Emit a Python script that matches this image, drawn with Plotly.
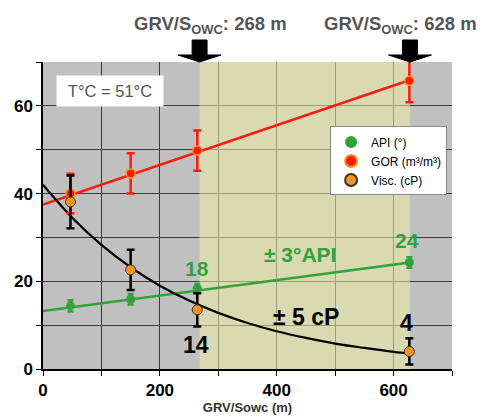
import plotly.graph_objects as go

# Measured points
x_pts = [47, 150, 264, 627]
api = [14.4, 15.9, 18.4, 24.3]
api_err = [1.3, 1.2, 1.0, 1.2]
gor = [40.0, 44.6, 49.8, 65.7]
gor_err = [4.5, 4.6, 4.6, 4.9]
visc = [38.1, 22.6, 13.5, 4.0]
visc_err = [6.0, 4.6, 3.8, 3.0]

# Trend lines
api_line_x = [0, 628]
api_line_y = [13.2, 24.3]
gor_line_x = [0, 628]
gor_line_y = [37.5, 65.9]
visc_curve_x = [0, 50, 100, 150, 200, 250, 300, 350, 400, 450, 500, 550, 600, 628]
visc_curve_y = [42.0, 34.5, 28.3, 23.2, 19.0, 15.6, 12.8, 10.5, 8.6, 7.1, 5.8, 4.8, 3.9, 3.5]

owc_marks = [268, 628]
x_ticks = [0, 200, 400, 600]
y_ticks = [0, 20, 40, 60]

GREEN = "#33A03C"
RED = "#FF1A0A"
ORANGE = "#F7941D"
FONT = "Liberation Sans, Arial"

fig = go.Figure()

fig.add_trace(go.Scatter(x=gor_line_x, y=gor_line_y, mode="lines",
                         line=dict(color=RED, width=2.5), showlegend=False, hoverinfo="skip"))
fig.add_trace(go.Scatter(x=api_line_x, y=api_line_y, mode="lines",
                         line=dict(color=GREEN, width=2.5), showlegend=False, hoverinfo="skip"))
fig.add_trace(go.Scatter(x=visc_curve_x, y=visc_curve_y, mode="lines", line_shape="spline",
                         line=dict(color="black", width=2.2), showlegend=False, hoverinfo="skip"))

fig.add_trace(go.Scatter(x=x_pts, y=api, mode="markers", name="API (°)",
                         marker=dict(color=GREEN, size=9),
                         error_y=dict(type="data", array=api_err, color=GREEN, thickness=2.5, width=3)))
fig.add_trace(go.Scatter(x=x_pts, y=gor, mode="markers", name="GOR (m³/m³)",
                         marker=dict(color=RED, size=9, line=dict(color=ORANGE, width=1.5)),
                         error_y=dict(type="data", array=gor_err, color=RED, thickness=2.5, width=4)))
fig.add_trace(go.Scatter(x=x_pts, y=visc, mode="markers", name="Visc. (cP)",
                         marker=dict(color=ORANGE, size=10, line=dict(color="#333", width=1)),
                         error_y=dict(type="data", array=visc_err, color="black", thickness=2.5, width=4)))

# shaded zone
fig.add_shape(type="rect", xref="x", yref="y", x0=owc_marks[0], x1=owc_marks[1], y0=0, y1=70,
              fillcolor="rgba(236,236,166,0.55)", line=dict(width=0), layer="between")

# arrows
for xm in owc_marks:
    s, h = 12.8, 36.8
    path = (f"M {xm-s},1.0717 L {xm+s},1.0717 L {xm+s},1.0228 L {xm+h},1.0228 "
            f"L {xm},1.0 L {xm-h},1.0228 L {xm-s},1.0228 Z")
    fig.add_shape(type="path", xref="x", yref="paper", path=path,
                  fillcolor="black", line=dict(color="black", width=1))

ann_font = dict(family=FONT, size=18.5, color="#555555", weight="bold")
fig.add_annotation(x=286, y=1.12, xref="x", yref="paper", text="GRV/S<sub>OWC</sub>: 268 m",
                   showarrow=False, font=ann_font, xanchor="center", yanchor="middle")
fig.add_annotation(x=612, y=1.12, xref="x", yref="paper", text="GRV/S<sub>OWC</sub>: 628 m",
                   showarrow=False, font=ann_font, xanchor="center", yanchor="middle")

fig.add_annotation(x=0.164, y=0.906, xref="paper", yref="paper", text="T°C = 51°C", showarrow=False,
                   font=dict(family=FONT, size=16.5, color="#555555"), xanchor="center", yanchor="middle",
                   bgcolor="white", width=100, height=24, borderpad=3)

bold = dict(family=FONT, size=21, weight="bold")
fig.add_annotation(x=264, y=23.0, text="18", showarrow=False, font=dict(bold, color=GREEN))
fig.add_annotation(x=623, y=29.3, text="24", showarrow=False, font=dict(bold, color=GREEN))
fig.add_annotation(x=440, y=26.0, text="± 3°API", showarrow=False, font=dict(bold, size=21, color=GREEN))
fig.add_annotation(x=450, y=11.9, text="± 5 cP", showarrow=False, font=dict(bold, size=23, color="black"))
fig.add_annotation(x=262, y=5.4, text="14", showarrow=False, font=dict(bold, size=23, color="black"))
fig.add_annotation(x=622, y=10.6, text="4", showarrow=False, font=dict(bold, size=23, color="black"))

tickfont = dict(family=FONT, size=17, color="black", weight="bold")
fig.update_xaxes(range=[0, 700], tickvals=x_ticks, showgrid=True, gridcolor="#3a3a3a", gridwidth=1,
                 minor=dict(dtick=100, tick0=0, showgrid=True, gridcolor="#3a3a3a", ticks="outside",
                            ticklen=5, tickcolor="black"),
                 ticks="outside", ticklen=5, tickcolor="black", tickfont=tickfont, automargin=False,
                 showline=True, linecolor="black", linewidth=1.5, zeroline=False,
                 title=dict(text="GRV/Sowc (m)", font=dict(family=FONT, size=13,
                                                             color="#333", weight="bold"), standoff=4))
fig.update_yaxes(range=[0, 70], tickvals=y_ticks, showgrid=True, gridcolor="#3a3a3a", gridwidth=1,
                 minor=dict(dtick=10, tick0=0, showgrid=True, gridcolor="#3a3a3a", ticks="outside",
                            ticklen=5, tickcolor="black"),
                 ticks="outside", ticklen=5, tickcolor="black", tickfont=tickfont, automargin=False,
                 showline=True, linecolor="black", linewidth=1.5, zeroline=False)

fig.update_layout(
    width=483, height=418,
    margin=dict(l=43, r=31, t=62, b=49),
    plot_bgcolor="#C0C0C0", paper_bgcolor="white",
    legend=dict(x=0.988, y=0.79, xanchor="right", yanchor="top", bgcolor="white",
                bordercolor="#888", borderwidth=1, tracegroupgap=0, itemwidth=30,
                font=dict(family=FONT, size=12, color="black"),
                itemsizing="constant"),
)

fig.write_html("out.html", config={"displayModeBar": False},
               post_script="document.body.style.margin='0';")
